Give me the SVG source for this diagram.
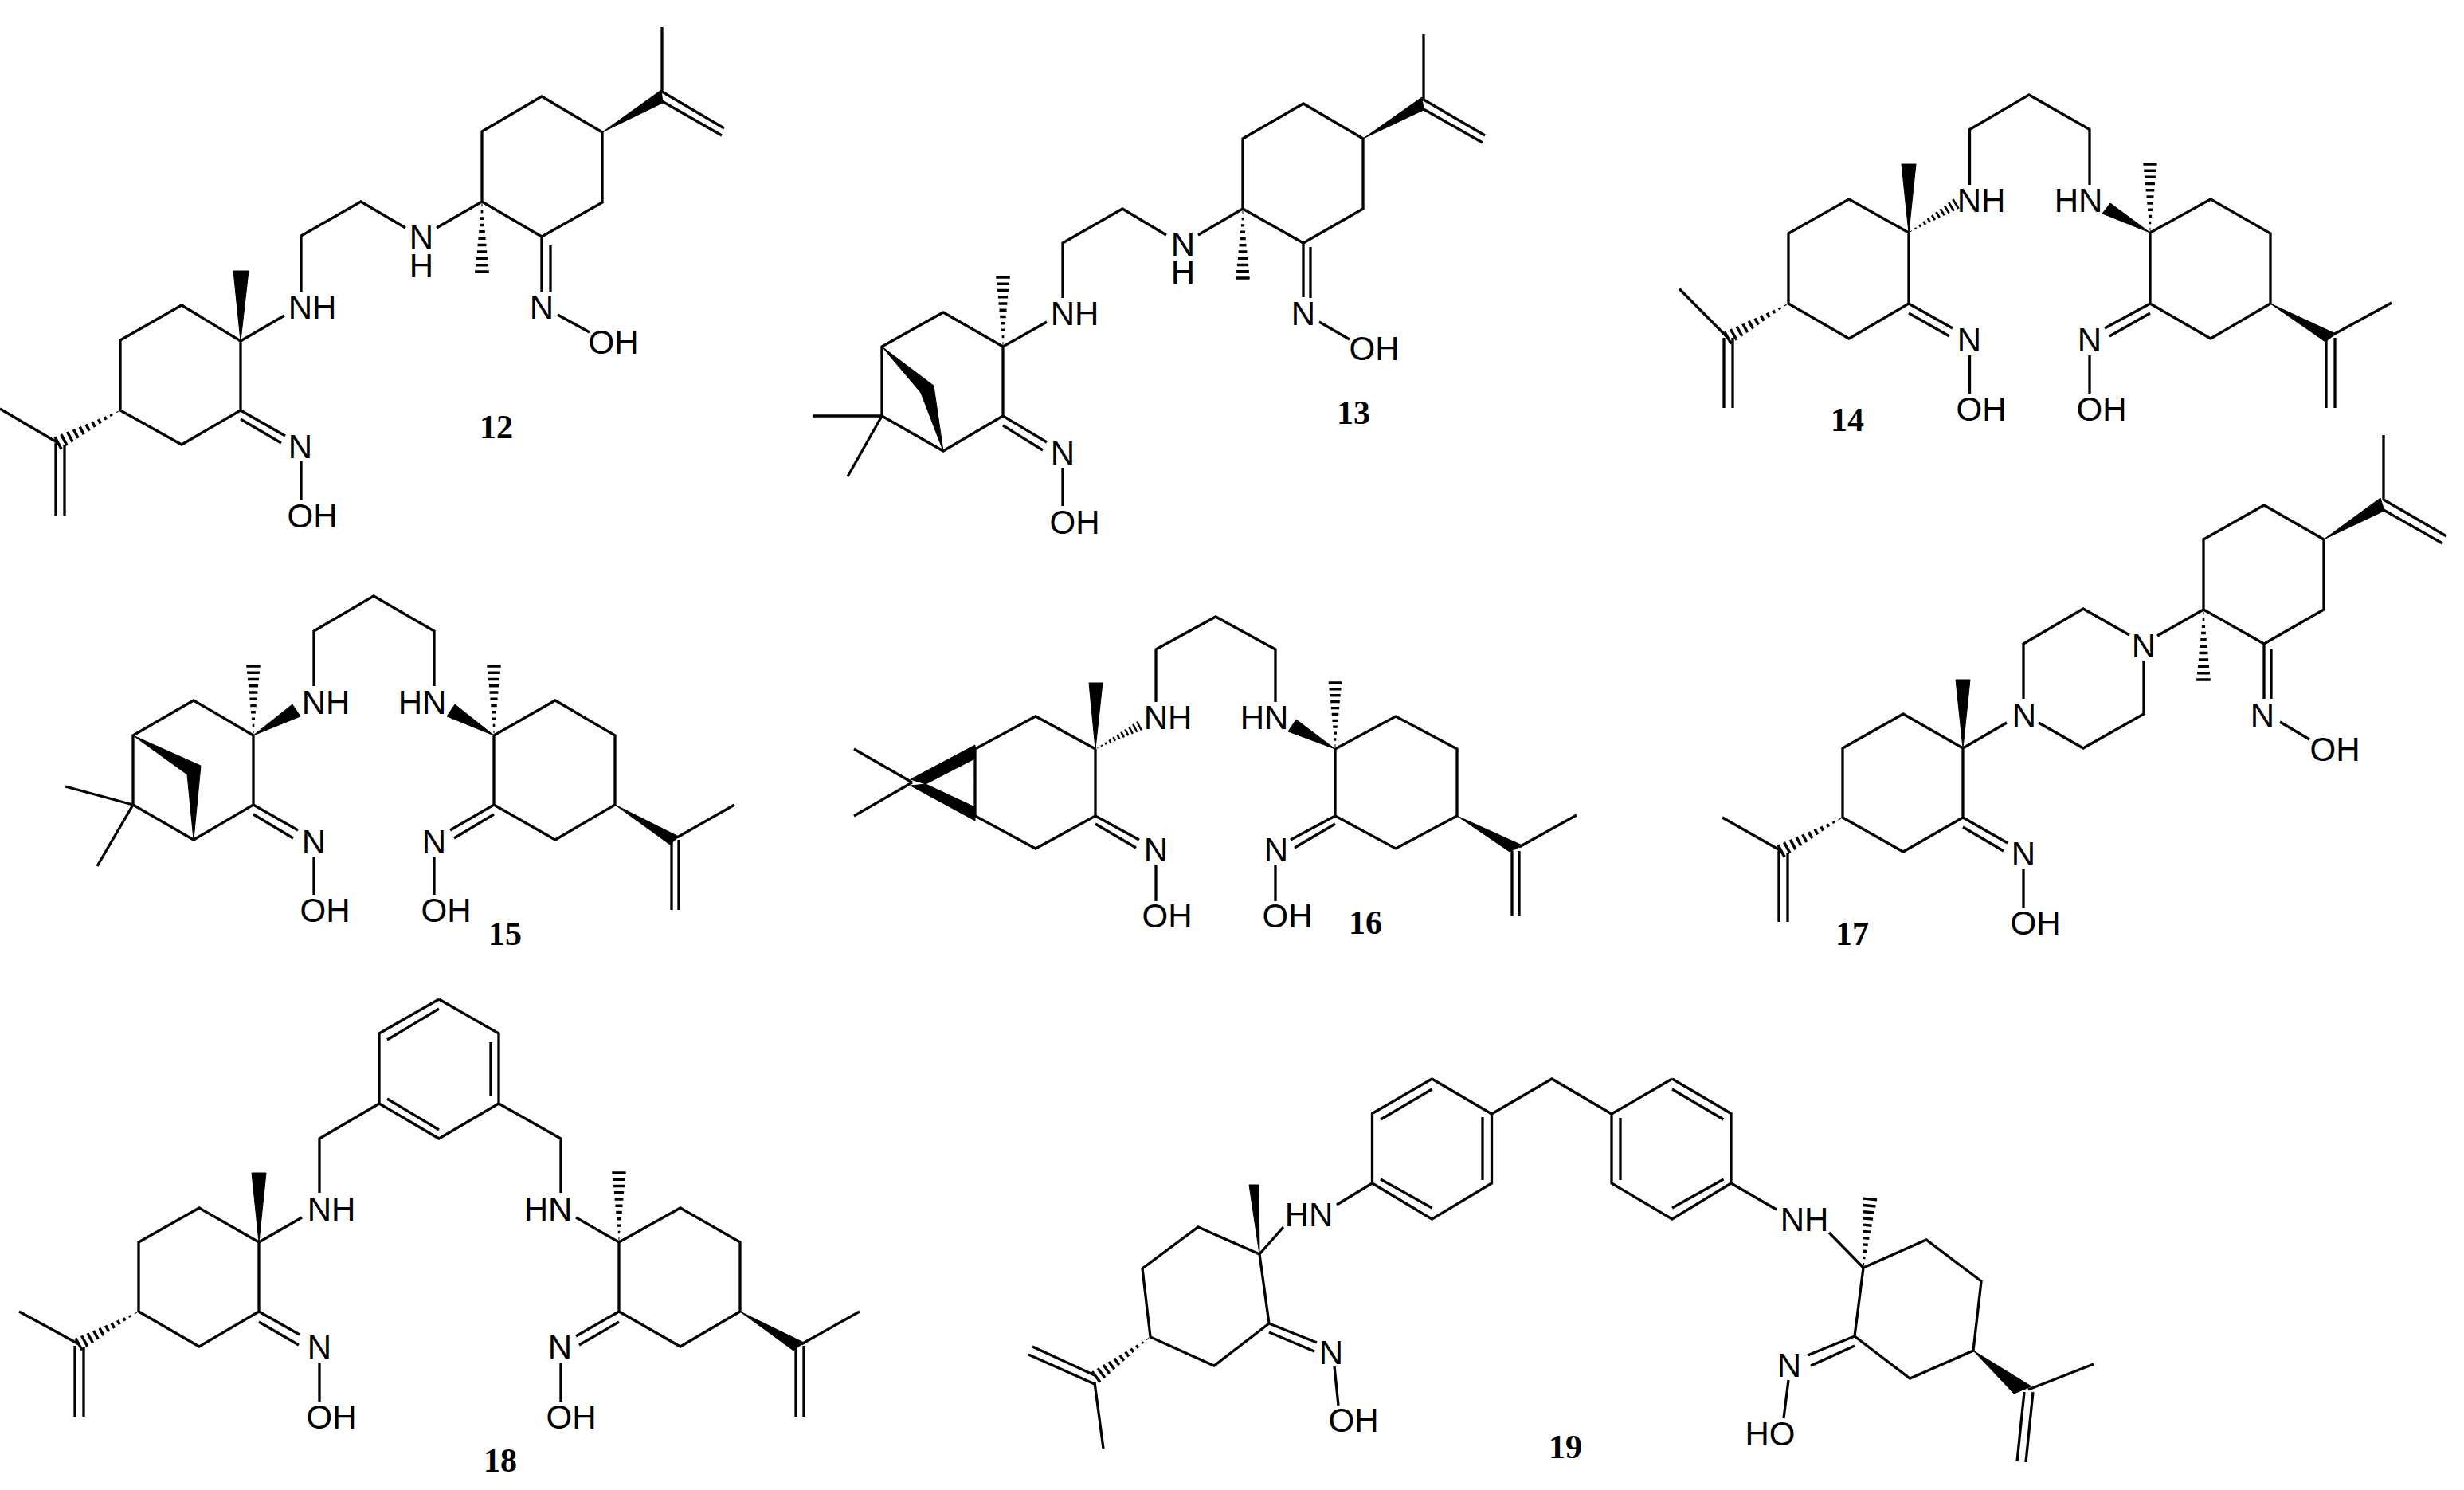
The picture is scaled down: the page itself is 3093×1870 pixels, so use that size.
<svg xmlns="http://www.w3.org/2000/svg" width="3093" height="1870" viewBox="0 0 3093 1870">
<style>
.b{fill:none;stroke:#000;stroke-width:3.3}
.w{fill:#000;stroke:#000;stroke-width:1}
.t{font-family:"Liberation Sans",Arial,sans-serif;font-size:42px;text-anchor:middle;fill:#000}
.n{font-family:"Liberation Serif","Times New Roman",serif;font-size:42px;font-weight:bold;text-anchor:middle;fill:#000}
</style>
<defs>
<path id="h" fill="none" stroke="#000" stroke-width="4" d="M100-10V10M90.5-9V9M81-8V8M71.5-7V7M62-6.2V6.2M52.5-5.2V5.2M43-4.3V4.3M33.5-3.4V3.4M24-2.4V2.4M14.5-1.5V1.5M5-.6V.6"/>
</defs>
<rect width="3093" height="1870" fill="#fff"/>

<g id="compound-12">
<path class="b" d="M605 253V165L680 121L756 166V254L680 297L605 253M831 34V115M831 115L909 161M831 127L906 170M680 297V366M691 308V366M700 395L740 417M548 286L605 253M509 286L453 253L378 296V366M302 428L357 396M302 428L228 383L151 427V515L228 558L302 515V428M302 515L358 547M302 526L353 556M378 579V627M0 513L73 556M70 556V647M81 558V647"/>
<polygon class="w" points="756,166 830,113 832,129"/>
<polygon class="w" points="302,428 293,340 312,340"/>
<use href="#h" transform="matrix(0 .88 -.88 0 605 253)"/>
<use href="#h" transform="matrix(-.78 .41 -.41 -.78 151 515)"/>
<text class="t" x="392" y="400">NH</text>
<text class="t"><tspan x="529" y="312">N</tspan><tspan x="529" y="348">H</tspan></text>
<text class="t" x="680" y="400">N</text>
<text class="t" x="770" y="444">OH</text>
<text class="t" x="377" y="575">N</text>
<text class="t" x="392" y="662">OH</text>
<text class="n" x="623" y="550">12</text>
</g>

<g id="compound-13">
<path class="b" d="M1560 262V174L1636 130L1711 174V262L1636 305L1560 262M1787 43V125M1787 125L1864 170M1787 137L1861 179M1636 305V373M1645 310V374M1656 404L1694 426M1560 262L1504 295M1464 295L1409 262L1334 305V374M1259 435L1314 404M1259 435L1184 392L1107 435V522L1184 566L1259 522V435M1107 522H1020M1107 522L1064 598M1259 522L1314 555M1259 534L1309 565M1334 587V635"/>
<polygon class="w" points="1711,174 1785,122 1787,138"/>
<polygon class="w" points="1107,435 1172,484 1184,566 1156,493"/>
<use href="#h" transform="matrix(0 .87 -.87 0 1560 262)"/>
<use href="#h" transform="matrix(0 -.87 .87 0 1259 435)"/>
<text class="t"><tspan x="1485" y="321">N</tspan><tspan x="1485" y="356">H</tspan></text>
<text class="t" x="1636" y="408">N</text>
<text class="t" x="1725" y="452">OH</text>
<text class="t" x="1349" y="408">NH</text>
<text class="t" x="1334" y="583">N</text>
<text class="t" x="1349" y="670">OH</text>
<text class="n" x="1699" y="532">13</text>
</g>

<g id="compound-14">
<path class="b" d="M2472.5 232V162.5L2547 119L2623 162.5V232M2396 292L2321 250L2245 293V381L2321 425L2396 381V292M2396 381L2451 412M2396 393L2447 422M2472.5 446V494M2108 362.5L2169 424M2164 424V512M2175 424V512M2699 292L2775 250L2850 293V381L2775 425L2699 381V292M2699 381L2642 412M2699 393L2648 422M2623 446V494M3002 380L2927 421M2920 424V512M2931 424V512"/>
<polygon class="w" points="2396,292 2387,206 2405,206"/>
<polygon class="w" points="2699,292 2649,255 2639,268"/>
<polygon class="w" points="2850,381 2932,419 2919,429"/>
<use href="#h" transform="matrix(.59 -.36 .36 .59 2396 292)"/>
<use href="#h" transform="matrix(-.76 .43 -.43 -.76 2245 381)"/>
<use href="#h" transform="matrix(0 -.86 .86 0 2699 292)"/>
<text class="t" x="2487" y="266">NH</text>
<text class="t" x="2609" y="266">HN</text>
<text class="t" x="2472" y="441">N</text>
<text class="t" x="2487" y="528">OH</text>
<text class="t" x="2623" y="441">N</text>
<text class="t" x="2638" y="528">OH</text>
<text class="n" x="2319" y="541">14</text>
</g>

<g id="compound-15">
<path class="b" d="M394 861V792L469 748L545 792V861M318 923L243 879L167 923V1010L243 1054L318 1010V923M167 1010L82 987M167 1010L122 1087M318 1010L374 1042M318 1022L368 1052M394 1075V1123M620 923L697 879L772 923V1010L697 1054L620 1010V923M620 1010L565 1042M620 1022L570 1052M545 1075V1123M922 1010L850 1051M843 1054V1142M852 1054V1142"/>
<polygon class="w" points="318,923 367,884 377,899"/>
<polygon class="w" points="620,923 571,884 561,899"/>
<polygon class="w" points="167,923 252,961 243,1054 235,972"/>
<polygon class="w" points="772,1010 852,1050 841,1060"/>
<use href="#h" transform="matrix(0 -.87 .87 0 318 923)"/>
<use href="#h" transform="matrix(0 -.87 .87 0 620 923)"/>
<text class="t" x="409" y="896">NH</text>
<text class="t" x="530" y="896">HN</text>
<text class="t" x="394" y="1071">N</text>
<text class="t" x="408" y="1157">OH</text>
<text class="t" x="545" y="1071">N</text>
<text class="t" x="560" y="1157">OH</text>
<text class="n" x="634" y="1186">15</text>
</g>

<g id="compound-16">
<path class="b" d="M1451 881V815L1526 774L1601 815V881M1375 940L1300 899L1224 940V1024L1300 1065L1375 1024V940M1072 940L1145 982M1072 1024L1145 982M1375 1024L1430 1054M1375 1034L1426 1064M1451 1085V1131M1676 940L1752 899L1829 940V1024L1752 1065L1676 1024V940M1676 1024L1620 1054M1676 1034L1625 1064M1601 1085V1131M1979 1023L1907 1063M1898 1068V1150M1907 1068V1150"/>
<polygon class="w" points="1375,940 1367,857 1384,857"/>
<polygon class="w" points="1143,978 1224,935 1224,952 1162,984"/>
<polygon class="w" points="1143,986 1224,1030 1224,1013 1162,984"/>
<polygon class="w" points="1676,940 1627,903 1617,918"/>
<polygon class="w" points="1829,1024 1911,1061 1895,1069"/>
<use href="#h" transform="matrix(.55 -.29 .29 .55 1375 940)"/>
<use href="#h" transform="matrix(0 -.83 .83 0 1676 940)"/>
<text class="t" x="1466" y="915">NH</text>
<text class="t" x="1587" y="915">HN</text>
<text class="t" x="1451" y="1081">N</text>
<text class="t" x="1465" y="1164">OH</text>
<text class="t" x="1602" y="1081">N</text>
<text class="t" x="1616" y="1164">OH</text>
<text class="n" x="1714" y="1172">16</text>
</g>

<g id="compound-17">
<path class="b" d="M2766 765V677L2842 634L2917 677V765L2842 808L2766 765M2992 546V627M2992 627L3071 673M2992 640L3066 682M2842 808V877M2851 814V877M2862 906L2899 928M2708 798L2766 765M2673 797L2615 764L2540 808V877M2691 829V896L2615 939L2559 907M2519 907L2464 939M2464 939L2389 896L2313 939V1026L2389 1069L2464 1026V939M2464 1026L2520 1058M2464 1038L2515 1068M2540 1091V1139M2162 1026L2236 1068M2233 1068V1157M2244 1071V1157"/>
<polygon class="w" points="2917,677 2988,625 2993,641"/>
<polygon class="w" points="2464,939 2455,853 2473,853"/>
<use href="#h" transform="matrix(0 .88 -.88 0 2766 765)"/>
<use href="#h" transform="matrix(-.77 .42 -.42 -.77 2313 1026)"/>
<text class="t" x="2691" y="825">N</text>
<text class="t" x="2541" y="912">N</text>
<text class="t" x="2840" y="912">N</text>
<text class="t" x="2931" y="955">OH</text>
<text class="t" x="2540" y="1086">N</text>
<text class="t" x="2555" y="1173">OH</text>
<text class="n" x="2325" y="1186">17</text>
</g>

<g id="compound-18">
<path class="b" d="M551 1254L476 1297V1385L551 1429L626 1385V1297L551 1254M551 1266L486 1305M616 1308V1376M486 1379L551 1418M476 1385L401 1429V1497M626 1385L704 1429V1497M325 1559L250 1516L174 1559V1646L250 1690L325 1646V1559M325 1559L379 1528M325 1646L376 1675M325 1659L375 1688M401 1710V1759M24 1646L99 1687M94 1689V1778M105 1691V1778M777 1559L854 1516L929 1559V1646L854 1690L777 1646V1559M723 1528L777 1559M777 1646L723 1677M777 1659L727 1688M704 1710V1759M1079 1646L1006 1687M999 1691V1778M1009 1689V1778"/>
<polygon class="w" points="325,1559 316,1472 334,1472"/>
<polygon class="w" points="929,1646 1009,1685 996,1695"/>
<use href="#h" transform="matrix(-.75 .41 -.41 -.75 174 1646)"/>
<use href="#h" transform="matrix(0 -.87 .87 0 777 1559)"/>
<text class="t" x="416" y="1532">NH</text>
<text class="t" x="688" y="1532">HN</text>
<text class="t" x="401" y="1705">N</text>
<text class="t" x="416" y="1793">OH</text>
<text class="t" x="703" y="1705">N</text>
<text class="t" x="717" y="1793">OH</text>
<text class="n" x="628" y="1847">18</text>
</g>

<g id="compound-19">
<path class="b" d="M1872.5 1398L1948 1354L2023 1398M1797.5 1354L1872.5 1398V1485L1797.5 1530L1722.5 1485V1397.5L1797.5 1354M1797.5 1367L1733 1405M1861 1402V1481M1733 1480L1797.5 1516M2099 1354L2023 1398V1485L2099 1530L2173 1485V1397.5L2099 1354M2099 1367L2163.5 1405M2034 1403V1481M2163.5 1480L2099 1516M1722.5 1485L1678 1512M1611 1540L1581 1574M1581 1574L1504 1540L1434 1592L1444 1678L1524 1714L1593 1661L1581 1574M1593 1661L1653 1685M1593 1672L1650 1696M1675 1715L1680 1764M1374 1726L1296 1690M1374 1737L1291 1700M1374 1735L1385 1818M2173 1485L2230 1518M2296 1547L2339 1591M2339 1591L2418 1556L2487 1608L2477 1695L2397.5 1730L2328 1677L2339 1591M2328 1677L2269 1701M2328 1689L2273 1714M2245 1732L2239 1780M2628 1712L2546 1744M2541 1747L2532 1834M2552 1747L2543 1835"/>
<polygon class="w" points="1581,1574 1568,1487 1580,1487"/>
<polygon class="w" points="2477,1695 2550,1740 2528,1749"/>
<use href="#h" transform="matrix(-.68 .5 -.5 -.68 1444 1678)"/>
<use href="#h" transform="matrix(.085 -.86 .86 .085 2339 1591)"/>
<text class="t" x="1643" y="1539">HN</text>
<text class="t" x="1671" y="1712">N</text>
<text class="t" x="1699" y="1797">OH</text>
<text class="t" x="2265" y="1545">NH</text>
<text class="t" x="2246" y="1728">N</text>
<text class="t" x="2222" y="1814">HO</text>
<text class="n" x="1965" y="1830">19</text>
</g>
</svg>
